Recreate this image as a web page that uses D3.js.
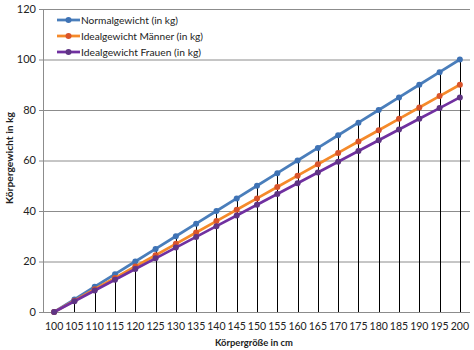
<!DOCTYPE html>
<html><head><meta charset="utf-8">
<script src="https://cdn.jsdelivr.net/npm/d3@7"></script>
<style>body{margin:0;background:#fff}svg{display:block}text{font-family:Lato,"Open Sans",sans-serif;fill:#222}</style>
</head><body><svg id="c" width="474" height="350"></svg>
<script>
const categories = [100,105,110,115,120,125,130,135,140,145,150,155,160,165,170,175,180,185,190,195,200];
const normalgewicht = [0,5,10,15,20,25,30,35,40,45,50,55,60,65,70,75,80,85,90,95,100];
const idealMaenner = [0,4.5,9,13.5,18,22.5,27,31.5,36,40.5,45,49.5,54,58.5,63,67.5,72,76.5,81,85.5,90];
const idealFrauen = [0,4.25,8.5,12.75,17,21.25,25.5,29.75,34,38.25,42.5,46.75,51,55.25,59.5,63.75,68,72.25,76.5,80.75,85];
const yTicks = [0,20,40,60,80,100,120];
const seriesNames = ["Normalgewicht (in kg)","Idealgewicht Männer (in kg)","Idealgewicht Frauen (in kg)"];

const series = [
  {name: seriesNames[0], values: normalgewicht, line: "#4a7ebb", marker: "#3f73b5"},
  {name: seriesNames[1], values: idealMaenner, line: "#f58a2a", marker: "#d9542b"},
  {name: seriesNames[2], values: idealFrauen, line: "#7030a0", marker: "#5f3584"}
];

const svg = d3.select("#c");
const L = 44, R = 470, T = 9, B = 312;
const x = d3.scalePoint().domain(categories).range([L, R]).padding(0.5);
const y = d3.scaleLinear().domain([0,120]).range([B, T]);

// gridlines
svg.append("g").selectAll("line").data(yTicks).join("line")
  .attr("x1", L-5).attr("x2", R).attr("y1", d=>y(d)+0.5).attr("y2", d=>y(d)+0.5)
  .attr("stroke", "#8c8c8c").attr("stroke-width", 1);
// y axis line
svg.append("line").attr("x1", L-0.5).attr("x2", L-0.5).attr("y1", T).attr("y2", B+0.5)
  .attr("stroke", "#8c8c8c");
// y tick labels
svg.append("g").selectAll("text").data(yTicks).join("text")
  .attr("x", L-8).attr("y", d=>y(d)).attr("dy", "0.35em").attr("text-anchor", "end")
  .attr("font-size", 11).text(d=>d);
// x labels
svg.append("g").selectAll("text").data(categories).join("text")
  .attr("x", d=>x(d)).attr("y", 326).attr("dy", "0.35em").attr("text-anchor", "middle")
  .attr("font-size", 10.5).text(d=>d);

// drop lines
svg.append("g").selectAll("line").data(categories).join("line")
  .attr("x1", d=>Math.round(x(d))+0.5).attr("x2", d=>Math.round(x(d))+0.5)
  .attr("y1", (d,i)=>y(d3.max(series, s=>s.values[i]))).attr("y2", B)
  .attr("stroke", "#000").attr("stroke-width", 1);

// lines
const lineGen = d3.line().x((d,i)=>x(categories[i])).y(d=>y(d));
series.forEach(s=>{
  svg.append("path").datum(s.values).attr("d", lineGen)
    .attr("fill","none").attr("stroke", s.line).attr("stroke-width", 2.75);
  svg.append("g").selectAll("circle").data(s.values).join("circle")
    .attr("cx", (d,i)=>x(categories[i])).attr("cy", d=>y(d)).attr("r", 3)
    .attr("fill", s.marker);
});

// legend
const lg = svg.append("g");
series.forEach((s,i)=>{
  const yy = 20 + i*16;
  lg.append("line").attr("x1", 57).attr("x2", 80).attr("y1", yy).attr("y2", yy)
    .attr("stroke", s.line).attr("stroke-width", 2.75);
  lg.append("circle").attr("cx", 68.5).attr("cy", yy).attr("r", 3).attr("fill", s.marker);
  lg.append("text").attr("x", 81).attr("y", yy).attr("dy", "0.35em")
    .attr("font-size", 10.2).attr("textLength", i===0 ? 97 : (i===1 ? 122 : 120))
    .attr("lengthAdjust","spacingAndGlyphs").text(s.name);
});

// axis titles
svg.append("text").attr("x", 254).attr("y", 342).attr("dy","0.35em").attr("text-anchor","middle")
  .attr("font-size", 10).attr("font-weight","bold").attr("textLength", 78)
  .attr("lengthAdjust","spacingAndGlyphs").text("Körpergröße in cm");
svg.append("text").attr("transform", "translate(9,158) rotate(-90)").attr("dy","0.35em")
  .attr("text-anchor","middle").attr("font-size", 10).attr("font-weight","bold")
  .attr("textLength", 92).attr("lengthAdjust","spacingAndGlyphs").text("Körpergewicht in kg");
</script></body></html>
